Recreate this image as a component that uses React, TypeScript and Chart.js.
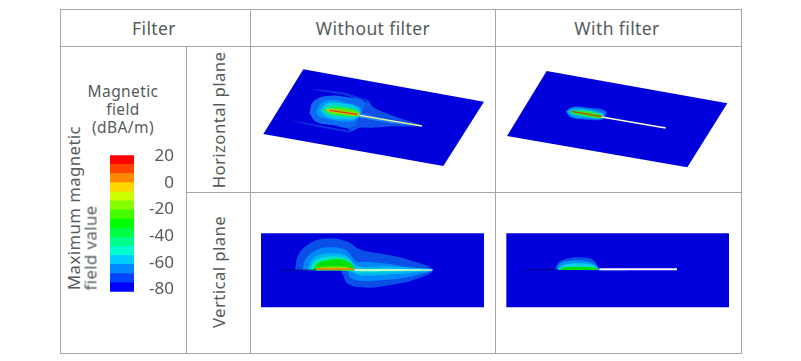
import React, { useEffect, useRef } from "react";
import { Chart, registerables } from "chart.js";

Chart.register(...registerables);

type Pt = [number, number];
type Layer = { color: string; pts: Pt[]; width?: number; line?: boolean; tension?: number };

const FONT = "'Noto Sans', sans-serif";
const TEXT = "#555b5b";
const RULE = "#a3a7a7";

// ---------- colour legend ----------
const bandColors = [
  "#0000ff", "#0044ff", "#0088ff", "#00ccff", "#00ffcc", "#00ff88", "#00ff44", "#00ff00",
  "#44ff00", "#88ff00", "#ccff00", "#ffd500", "#ff8800", "#ff4400", "#ff0000",
];
const bandEdges = [
  -81.7, -74.9, -68.1, -61.2, -54.4, -47.6, -40.8, -34, -27.1, -20.3, -13.5, -6.7, 0.2, 7, 13.8, 20.7,
];
const legendTicks = [20, 0, -20, -40, -60, -80];

// ---------- horizontal plane, without filter ----------
const hNoPlate: Pt[] = [[160, 58], [702, 155], [580, 348], [40, 252], [160, 58]];
const hNoFaint: Pt[] = [[190, 117], [115, 212], [130, 213]];
const hNoWingTop: Pt[] = [[190, 117], [280, 127], [355, 150], [350, 155], [280, 134], [190, 119], [190, 117]];
const hNoWingBottom: Pt[] = [[130, 212], [220, 228], [300, 243], [300, 248], [210, 232], [130, 214], [130, 212]];
const hNoTail: Pt[] = [[355, 150], [368, 170], [400, 186], [450, 205], [516, 228], [430, 229], [370, 233], [330, 233], [300, 244], [290, 200], [355, 150]];
const hNoL1: Pt[] = [[178, 190], [190, 155], [230, 138], [285, 140], [345, 156], [332, 190], [305, 232], [250, 226], [198, 215], [178, 190]];
const hNoL2: Pt[] = [[198, 185], [215, 158], [250, 150], [295, 160], [335, 178], [325, 205], [290, 215], [235, 208], [205, 198], [198, 185]];
const hNoL3: Pt[] = [[210, 180], [233, 160], [275, 160], [325, 175], [325, 202], [280, 208], [230, 200], [210, 180]];
const hNoL4: Pt[] = [[218, 180], [240, 166], [275, 168], [325, 182], [325, 199], [275, 200], [235, 194], [218, 180]];
const hNoL5: Pt[] = [[226, 178], [270, 174], [325, 186], [325, 197], [270, 194], [235, 188], [226, 178]];
const hNoWedge: Pt[] = [[330, 190], [420, 210], [516, 228], [420, 219], [330, 203], [330, 190]];
const hNoCoreOuter: Pt[] = [[232, 180], [325, 194]];
const hNoCore: Pt[] = [[238, 181], [322, 193]];
const hNoNeedle: Pt[] = [[328, 196], [516, 228]];

// ---------- horizontal plane, with filter ----------
const hFiPlate: Pt[] = [[155, 63], [697, 160], [577, 352], [36, 258], [155, 63]];
const hFiFaint: Pt[] = [[175, 120], [350, 150], [305, 248], [110, 218], [175, 120]];
const hFiL1: Pt[] = [[212, 185], [230, 171], [280, 173], [332, 183], [325, 207], [280, 209], [230, 203], [212, 185]];
const hFiL2: Pt[] = [[216, 185], [235, 175], [280, 178], [325, 190], [322, 204], [275, 205], [228, 198], [216, 185]];
const hFiL3: Pt[] = [[222, 183], [270, 180], [320, 193], [320, 204], [270, 200], [230, 192], [222, 183]];
const hFiL4: Pt[] = [[228, 183], [270, 184], [320, 196], [320, 204], [270, 197], [232, 189], [228, 183]];
const hFiCore: Pt[] = [[230, 184], [320, 200]];
const hFiNeedle: Pt[] = [[320, 201], [512, 234]];

// ---------- vertical plane, without filter ----------
const vNoPlate: Pt[] = [[33, 40], [702, 40], [702, 262], [33, 262], [33, 40]];
const vNoL1: Pt[] = [[135, 150], [145, 105], [180, 70], [230, 55], [285, 62], [335, 90], [400, 102], [470, 118], [548, 150], [490, 180], [420, 195], [350, 203], [295, 192], [276, 160], [270, 151], [200, 151], [135, 151], [135, 150]];
const vNoL2: Pt[] = [[158, 150], [165, 120], [195, 92], [240, 82], [290, 92], [320, 125], [345, 125], [400, 130], [480, 142], [545, 150], [480, 170], [400, 180], [330, 182], [300, 172], [290, 152], [230, 151], [158, 151], [158, 150]];
const vNoL3: Pt[] = [[172, 150], [182, 125], [205, 106], [250, 100], [290, 108], [312, 130], [330, 140], [430, 140], [545, 150], [430, 163], [330, 166], [305, 155], [240, 151], [172, 151], [172, 150]];
const vNoL4: Pt[] = [[182, 150], [192, 125], [220, 113], [265, 110], [297, 120], [314, 145], [314, 151], [250, 151], [182, 151], [182, 150]];
const vNoL5: Pt[] = [[190, 150], [203, 130], [240, 119], [280, 119], [302, 130], [312, 145], [312, 151], [250, 151], [190, 151], [190, 150]];
const vNoTeal: Pt[] = [[312, 146], [430, 146], [546, 150], [430, 156], [315, 158], [312, 146]];
const vNoWedge: Pt[] = [[314, 147], [430, 148], [546, 150], [430, 153], [315, 153], [314, 147]];
const vNoYellow: Pt[] = [[198, 150], [215, 141], [290, 141], [308, 150], [198, 150]];
const vNoLine: Pt[] = [[85, 150], [198, 150]];
const vNoCore: Pt[] = [[198, 147], [312, 147]];
const vNoNeedle: Pt[] = [[315, 150], [548, 150]];

// ---------- vertical plane, with filter ----------
const vFiPlate: Pt[] = [[34, 40], [702, 40], [702, 262], [34, 262], [34, 40]];
const vFiL1: Pt[] = [[180, 148], [190, 128], [220, 115], [260, 112], [295, 120], [312, 145], [312, 150], [250, 150], [180, 150], [180, 148]];
const vFiL2: Pt[] = [[185, 148], [195, 130], [225, 122], [265, 122], [295, 130], [312, 148], [312, 150], [250, 150], [185, 150], [185, 148]];
const vFiL3: Pt[] = [[188, 148], [205, 135], [250, 130], [295, 135], [312, 148], [312, 150], [250, 150], [188, 150], [188, 148]];
const vFiL4: Pt[] = [[192, 149], [210, 142], [290, 142], [312, 149], [312, 150], [192, 150], [192, 149]];
const vFiStrip: Pt[] = [[313, 150], [400, 151], [400, 154], [313, 154], [313, 150]];
const vFiLine: Pt[] = [[85, 149], [190, 149]];
const vFiNeedle: Pt[] = [[313, 148], [546, 148]];

const PLATE = "#0000dc";

const hNoLayers: Layer[] = [
  { color: PLATE, pts: hNoPlate, tension: 0 },
  { color: "#0000c4", pts: hNoFaint, line: true, width: 0.6 },
  { color: "#0c38e4", pts: hNoWingTop, tension: 0 },
  { color: "#0c38e4", pts: hNoWingBottom, tension: 0 },
  { color: "#1050ea", pts: hNoTail, tension: 0.3 },
  { color: "#0d68f2", pts: hNoL1 },
  { color: "#0098f8", pts: hNoL2 },
  { color: "#00c8e8", pts: hNoL3 },
  { color: "#00e890", pts: hNoL4 },
  { color: "#60e800", pts: hNoL5 },
  { color: "#2888f0", pts: hNoWedge, tension: 0 },
  { color: "#f0c000", pts: hNoCoreOuter, line: true, width: 2.4 },
  { color: "#d83010", pts: hNoCore, line: true, width: 1.2 },
  { color: "#f4f4a0", pts: hNoNeedle, line: true, width: 1.4 },
];

const hFiLayers: Layer[] = [
  { color: PLATE, pts: hFiPlate, tension: 0 },
  { color: "#0000c4", pts: hFiFaint, line: true, width: 0.6 },
  { color: "#0868f0", pts: hFiL1 },
  { color: "#00a8f0", pts: hFiL2 },
  { color: "#00e0b0", pts: hFiL3 },
  { color: "#40e020", pts: hFiL4 },
  { color: "#a06000", pts: hFiCore, line: true, width: 1.4 },
  { color: "#fbfbd8", pts: hFiNeedle, line: true, width: 1.4 },
];

const vNoLayers: Layer[] = [
  { color: PLATE, pts: vNoPlate, tension: 0 },
  { color: "#0a50e8", pts: vNoL1 },
  { color: "#0088f8", pts: vNoL2 },
  { color: "#00b8f0", pts: vNoL3 },
  { color: "#00e8c0", pts: vNoL4 },
  { color: "#00e000", pts: vNoL5 },
  { color: "#90e000", pts: vNoYellow, tension: 0.3 },
  { color: "#00d8d0", pts: vNoTeal, tension: 0.2 },
  { color: "#90ffc0", pts: vNoWedge, tension: 0.2 },
  { color: "#000060", pts: vNoLine, line: true, width: 0.8 },
  { color: "#d89000", pts: vNoCore, line: true, width: 2 },
  { color: "#f8f8d8", pts: vNoNeedle, line: true, width: 1 },
];

const vFiLayers: Layer[] = [
  { color: PLATE, pts: vFiPlate, tension: 0 },
  { color: "#0a50e8", pts: vFiL1 },
  { color: "#0090f0", pts: vFiL2 },
  { color: "#00d0e8", pts: vFiL3 },
  { color: "#00e000", pts: vFiL4 },
  { color: "#0830e4", pts: vFiStrip, tension: 0 },
  { color: "#000060", pts: vFiLine, line: true, width: 0.8 },
  { color: "#ffffff", pts: vFiNeedle, line: true, width: 2 },
];

function Panel({ left, top, width, height, layers }: { left: number; top: number; width: number; height: number; layers: Layer[] }) {
  const ref = useRef<HTMLCanvasElement>(null);
  useEffect(() => {
    const chart = new Chart(ref.current!, {
      type: "scatter",
      data: {
        datasets: layers.map((l, i) => ({
          data: l.pts.map(([x, y]) => ({ x, y })),
          showLine: true,
          pointRadius: 0,
          order: layers.length - i,
          tension: l.tension ?? 0.4,
          borderWidth: l.line ? l.width ?? 1 : 0,
          borderColor: l.color,
          backgroundColor: l.color,
          fill: l.line ? false : "shape",
        })),
      },
      options: {
        animation: false,
        responsive: false,
        events: [],
        layout: { padding: 0 },
        plugins: { legend: { display: false }, tooltip: { enabled: false } },
        scales: {
          x: { type: "linear", display: false, min: 0, max: width * 3 },
          y: { type: "linear", display: false, min: 0, max: height * 3, reverse: true },
        },
      },
    } as any);
    return () => chart.destroy();
  }, []);
  return <canvas ref={ref} width={width} height={height} style={{ position: "absolute", left, top, width, height }} />;
}

function LegendBar() {
  const ref = useRef<HTMLCanvasElement>(null);
  useEffect(() => {
    const chart = new Chart(ref.current!, {
      type: "bar",
      data: {
        labels: ["field"],
        datasets: bandColors.map((c, i) => ({
          data: [[bandEdges[i], bandEdges[i + 1]]],
          backgroundColor: c,
          borderWidth: 0,
          barPercentage: 1,
          categoryPercentage: 1,
        })),
      },
      options: {
        animation: false,
        responsive: false,
        events: [],
        layout: { padding: { left: 10, right: 0, top: 9, bottom: 10 } },
        plugins: { legend: { display: false }, tooltip: { enabled: false } },
        scales: {
          x: { display: false, stacked: true },
          y: {
            position: "right",
            min: -81.7,
            max: 20.7,
            grid: { display: false },
            border: { display: false },
            afterBuildTicks: (s: any) => {
              s.ticks = legendTicks.map((value) => ({ value }));
            },
            afterFit: (s: any) => {
              s.width = 40;
            },
            ticks: {
              color: TEXT,
              font: { family: FONT, size: 17 },
              crossAlign: "far",
              autoSkip: false,
              padding: 0,
              callback: (v: any) => String(v),
            },
          },
        },
      },
    } as any);
    return () => chart.destroy();
  }, []);
  return <canvas ref={ref} width={74} height={157} style={{ position: "absolute", left: 100, top: 145, width: 74, height: 157 }} />;
}

const rule = (left: number, top: number, width: number, height: number) => (
  <div style={{ position: "absolute", left, top, width, height, background: RULE }} />
);

const label = (text: string, cx: number, cy: number, size = 17.5, rotate = 0) => (
  <div
    style={{
      position: "absolute",
      left: cx,
      top: cy,
      transform: `translate(-50%,-50%) rotate(${rotate}deg)`,
      whiteSpace: "nowrap",
      font: `${size}px ${FONT}`,
      color: TEXT,
      letterSpacing: "0.4px",
    }}
  >
    {text}
  </div>
);

export default function App() {
  return (
    <div style={{ position: "absolute", left: 0, top: 0, width: 801, height: 361, background: "#fff", overflow: "hidden" }}>
      <Panel left={250} top={50} width={245} height={140} layers={hNoLayers} />
      <Panel left={495} top={50} width={245} height={140} layers={hFiLayers} />
      <Panel left={250} top={220} width={245} height={100} layers={vNoLayers} />
      <Panel left={495} top={220} width={245} height={100} layers={vFiLayers} />
      <LegendBar />
      {rule(60, 9, 681, 1)}
      {rule(60, 46, 681, 1)}
      {rule(186, 192, 555, 1)}
      {rule(60, 353, 681, 1)}
      {rule(60, 9, 1, 345)}
      {rule(250, 9, 1, 345)}
      {rule(495, 9, 1, 345)}
      {rule(741, 9, 1, 345)}
      {rule(186, 46, 1, 308)}
      {label("Filter", 154, 28)}
      {label("Without filter", 373, 28)}
      {label("With filter", 617, 28)}
      {label("Magnetic", 123, 91, 15.5)}
      {label("field", 123, 109, 15.5)}
      {label("(dBA/m)", 123, 127, 15.5)}
      {label("Maximum magnetic", 73, 208, 16.8, -90)}
      {label("field value", 90, 248, 16.8, -90)}
      {label("Horizontal plane", 218, 120, 16.8, -90)}
      {label("Vertical plane", 218, 272, 16.8, -90)}
    </div>
  );
}
